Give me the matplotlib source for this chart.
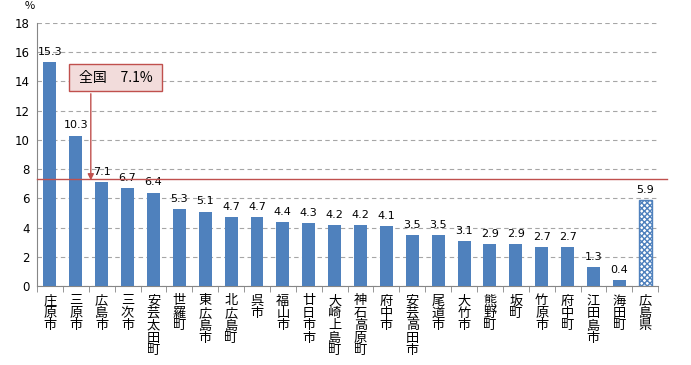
import matplotlib
matplotlib.use("Agg")
from matplotlib import pyplot as plt
from matplotlib.patches import Rectangle
import numpy as np

plt.rcParams['font.family'] = ['Noto Sans CJK JP', 'DejaVu Sans']

# -- data ---------------------------------------------------------------
names = ["庄原市", "三原市", "広島市", "三次市", "安芸太田町", "世羅町", "東広島市",
         "北広島町", "呉市", "福山市", "廿日市市", "大崎上島町", "神石高原町", "府中市",
         "安芸高田市", "尾道市", "大竹市", "熊野町", "坂町", "竹原市", "府中町",
         "江田島市", "海田町", "広島県"]
values = [15.3, 10.3, 7.1, 6.7, 6.4, 5.3, 5.1, 4.7, 4.7, 4.4, 4.3, 4.2, 4.2, 4.1,
          3.5, 3.5, 3.1, 2.9, 2.9, 2.7, 2.7, 1.3, 0.4, 5.9]
national = 7.1
national_label = "全国　7.1%"
yticks = [0, 2, 4, 6, 8, 10, 12, 14, 16, 18]

# -- colours ------------------------------------------------------------
bar_color = "#4f81bd"
axis_color = "#868686"
red = "#c0504d"

fig = plt.figure(figsize=(6.91, 3.65), dpi=100)
ax = fig.add_axes((0.0535, 0.216, 0.899, 0.721))

x = np.arange(len(names))
ax.bar(x[:-1], values[:-1], width=0.5, color=bar_color, zorder=3)
ax.bar(x[-1], values[-1], width=0.5, facecolor="white", edgecolor=bar_color,
       hatch="xxxxxx", linewidth=1.0, zorder=3)

for xi, v in zip(x, values):
    ax.text(xi, v + 0.35, f"{v:.1f}", ha="center", va="bottom", fontsize=8,
            family=["DejaVu Sans"], color="black")

ax.set_xlim(-0.5, len(names) - 0.5)
ax.set_ylim(0, 18)
ax.set_yticks(yticks)
ax.set_yticklabels([str(t) for t in yticks], fontsize=8.5, family=["DejaVu Sans"])
ax.yaxis.grid(True, linestyle=(0, (4, 3)), color="#a6a6a6", linewidth=0.8, zorder=0)

ax.set_xticks(x)
ax.set_xticklabels(["\n".join(n) for n in names], fontsize=9.5, linespacing=0.95,
                   va="top")
ax.tick_params(axis="x", length=0, pad=6)
ax.set_xticks(np.arange(-0.5, len(names), 1.0), minor=True)
ax.tick_params(axis="x", which="minor", length=4, color=axis_color, direction="out")
ax.tick_params(axis="y", length=0, pad=5)

for side in ["top", "right"]:
    ax.spines[side].set_visible(False)
for side in ["left", "bottom"]:
    ax.spines[side].set_color(axis_color)

ax.text(-0.78, 18.8, "%", fontsize=8, ha="center", va="bottom")

# national average line (drawn a touch above value, as in the original)
ax.plot([-0.5, len(names) - 0.15], [national + 0.2, national + 0.2], color=red,
        linewidth=1.0, clip_on=False, zorder=4)

# annotation box + arrow
ax.annotate("", xy=(1.58, national - 0.05), xytext=(1.58, 13.35),
            arrowprops=dict(arrowstyle="-|>", color=red, lw=1.0, mutation_scale=9),
            zorder=5)
ax.add_patch(Rectangle((0.74, 13.35), 3.6, 1.85, facecolor="#f2dcdb", edgecolor=red,
                       linewidth=1.0, zorder=6, clip_on=False))
ax.text(2.54, 14.25, national_label, fontsize=10, ha="center", va="center", zorder=7)

fig.savefig("out.png", dpi=100)
